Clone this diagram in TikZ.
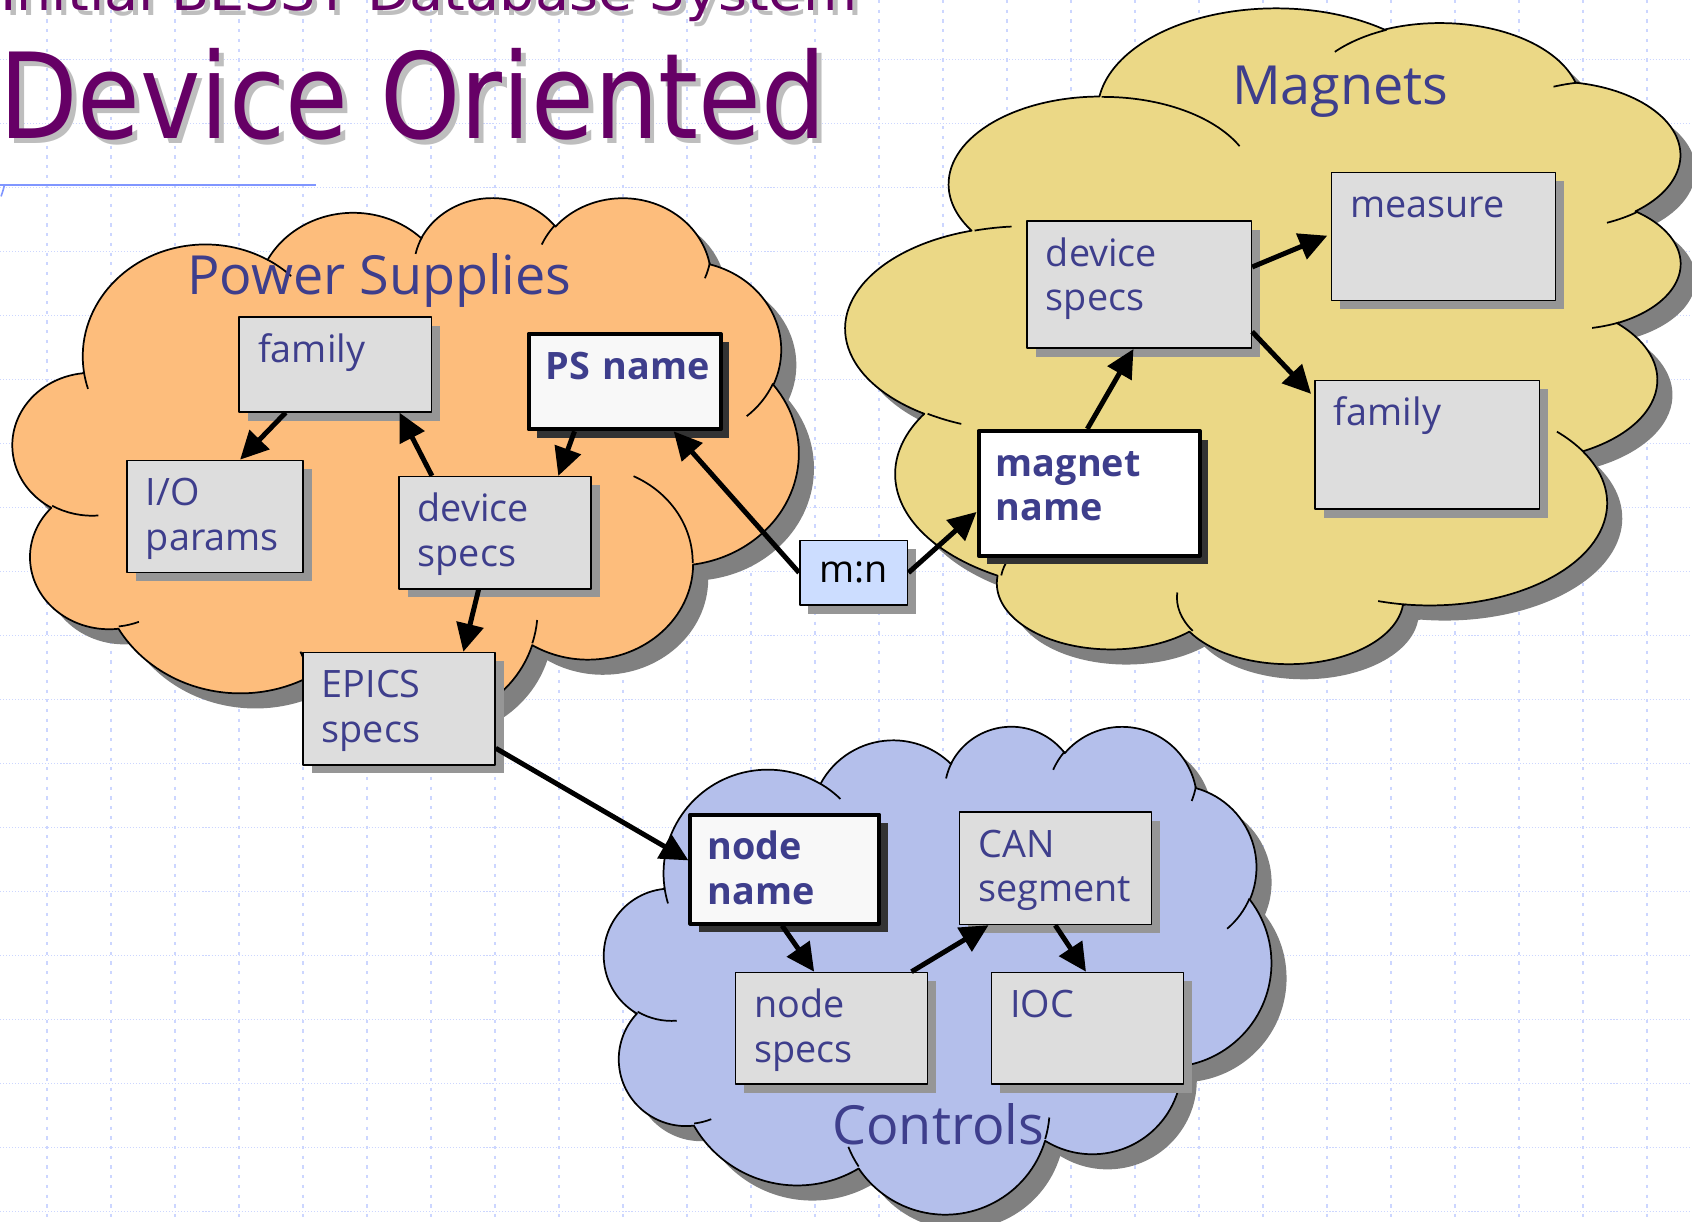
\documentclass[tikz,border=0pt]{standalone}
\usepackage{fontspec}
\setmainfont{Open Sans}
\newfontfamily\titlefont{DejaVu Sans}
\usepackage{tikz}
\usetikzlibrary{arrows.meta,shadows}
\usepackage{xcolor}

\definecolor{psorange}{RGB}{253,189,124}
\definecolor{magyellow}{RGB}{235,216,134}
\definecolor{ctlblue}{RGB}{180,191,235}
\definecolor{boxgray}{RGB}{221,221,221}
\definecolor{boxshade}{RGB}{150,150,150}
\definecolor{cloudshade}{RGB}{128,128,128}
\definecolor{namefill}{RGB}{248,248,248}
\definecolor{nameshade}{RGB}{51,51,51}
\definecolor{mnblue}{RGB}{204,221,255}
\definecolor{inkblue}{RGB}{62,62,140}
\definecolor{titlepurple}{RGB}{102,0,102}
\definecolor{titleshade}{RGB}{190,190,190}
\definecolor{gridblue}{RGB}{204,214,255}
\definecolor{ruleblue}{RGB}{128,150,255}

% cloud outline, 432 x 432 box: x radius/y radius/start/swing
\def\cloudarcs{67.53/91.90/-190.4875/123.7805,53.33/72.67/-144.1024/89.9452,43.65/59.45/-145.8079/99.7230,48.57/65.95/-130.9861/117.2417,53.33/72.73/-78.7089/109.0269,67.75/92.20/-46.2673/130.2690,57.85/78.67/0.6250/114.0333,67.52/92.15/22.4516/115.1726,77.20/105.43/66.2426/75.7110,43.60/59.18/-274.9421/146.7356,43.45/59.45/-246.8285/152.5189}
% the short strokes inside the cloud: x/y/x radius/y radius/start/swing
\def\cloudbits{46.93/261.77/43.45/59.45/86.7420/26.4295,69.28/348.99/43.60/59.18/73.6105/11.4475,164.78/390.90/67.52/92.15/137.6242/14.0811,288.27/347.51/67.52/92.15/6.4533/15.9984,341.29/229.54/57.85/78.67/-70.2924/70.9174,417.98/153.54/53.33/72.73/30.3180/27.7515,383.24/54.26/48.57/65.95/13.7443/14.8589,290.78/39.52/48.57/65.95/-149.1815/18.1954,221.41/47.20/43.65/59.45/-163.4943/17.6864,140.00/51.92/67.53/91.90/-66.7070/12.3194,41.27/157.89/67.53/91.90/157.6544/11.8582}

% #1 placement of the 432 box, #2 fill
\newcommand\cloud[2]{%
  \begin{scope}[shift={(14,14)},#1]
    \fill[cloudshade] (39,143.7) \foreach \wr/\hr/\st/\sw [evaluate={\st as \ts using atan2(\wr*sin(\st),\hr*cos(\st))},evaluate={\sw as \dd using mod(atan2(\wr*sin(\st+\sw),\hr*cos(\st+\sw))-atan2(\wr*sin(\st),\hr*cos(\st))+720,360)}] in \cloudarcs {arc[start angle=\ts,delta angle=\dd,x radius=\wr,y radius=\hr]} -- cycle;
  \end{scope}
  \begin{scope}[#1]
    \filldraw[fill=#2,line width=1.6pt] (39,143.7) \foreach \wr/\hr/\st/\sw [evaluate={\st as \ts using atan2(\wr*sin(\st),\hr*cos(\st))},evaluate={\sw as \dd using mod(atan2(\wr*sin(\st+\sw),\hr*cos(\st+\sw))-atan2(\wr*sin(\st),\hr*cos(\st))+720,360)}] in \cloudarcs {arc[start angle=\ts,delta angle=\dd,x radius=\wr,y radius=\hr]} -- cycle;
    \draw[line width=1.6pt] \foreach \ax/\ay/\wr/\hr/\st/\sw [evaluate={\st as \ts using atan2(\wr*sin(\st),\hr*cos(\st))},evaluate={\sw as \dd using mod(atan2(\wr*sin(\st+\sw),\hr*cos(\st+\sw))-atan2(\wr*sin(\st),\hr*cos(\st))+720,360)}] in \cloudbits {(\ax,\ay) arc[start angle=\ts,delta angle=\dd,x radius=\wr,y radius=\hr]};
  \end{scope}
}

\begin{document}
\begin{tikzpicture}[x=1pt,y=-1pt,line join=round,
  box/.style={draw,line width=1.4pt,anchor=north west,align=left,inner xsep=17.5pt,inner ysep=0pt,text height=42pt,text=inkblue,font=\fontsize{35}{41}\selectfont},
  boxsize/.style 2 args={text width=#1pt-2*\pgfkeysvalueof{/pgf/inner xsep},text depth=#2pt-42pt},
  graybox/.style={box,fill=boxgray,drop shadow={shadow xshift=8pt,shadow yshift=-8pt,fill=boxshade,opacity=1}},
  namebox/.style={box,fill=namefill,line width=3.7pt,inner xsep=16pt,font=\fontsize{35}{41}\selectfont\bfseries,drop shadow={shadow xshift=8pt,shadow yshift=-8pt,fill=nameshade,opacity=1}},
  mnbox/.style={draw,line width=1.4pt,fill=mnblue,anchor=north west,minimum width=100pt,minimum height=60pt,inner sep=0pt,font=\fontsize{35}{41}\selectfont,drop shadow={shadow xshift=8pt,shadow yshift=-8pt,fill=boxshade,opacity=1}},
  cloudlabel/.style={anchor=base,inner sep=0pt,text=inkblue,font=\fontsize{50}{60}\selectfont},
  titletext/.style={anchor=base west,inner sep=0pt,font=\titlefont\fontsize{#1}{#1}\selectfont},
  link/.style={line width=4.6pt,-{Triangle[length=26pt,width=25pt]}}]
\useasboundingbox (0,0) rectangle (1568,1132);
\clip (0,0) rectangle (1568,1132);
\fill[white] (0,0) rectangle (1568,1132);
% dotted paper
\foreach \k in {0,...,18}
  \draw[gridblue,line width=1.2pt,dash pattern=on 1pt off 1.8pt] (0,55.3+59.31*\k) -- (1568,55.3+59.31*\k);
\foreach \k in {0,...,25}
  \draw[gridblue,line width=1.6pt,dash pattern=on 3pt off 6pt] (43.3+59.31*\k,0) -- (43.3+59.31*\k,1132);

% titles
\node[titletext=50,text=titleshade,xscale=1.03] (subshade) at (4.6,14.5) {Initial BESSY Database System};
\node[titletext=50,text=titlepurple,xscale=1.03] (subtitle) at (0,9.9) {Initial BESSY Database System};
\node[titletext=110,text=titleshade,xscale=0.86] (headshade) at (3.6,132.8) {Device Oriented};
\node[titletext=110,text=titlepurple,xscale=0.86] (head) at (-1,128.2) {Device Oriented};
\draw[ruleblue,line width=2pt] (0,171.5) -- (293,171.5);
\draw[ruleblue,line width=1.5pt] (4,172) .. controls (3,176) .. (1,182);

% the three clouds
\cloud{shift={(12,182)},xscale=728/432,yscale=488/432}{psorange}
\cloud{cm={0,1.40509,1.79167,0,(1560,615)}}{magyellow}
\cloud{shift={(560,672)},xscale=618/432,yscale=452/432}{ctlblue}
\node[cloudlabel] (pslabel) at (351.6,273.2) {Power Supplies};
\node[cloudlabel] (maglabel) at (1242,97.2) {Magnets};
\node[cloudlabel] (ctllabel) at (869.4,1060.2) {Controls};

% power supplies
\node[graybox,boxsize={178}{88}] (psfam) at (221,293) {family};
\node[namebox,boxsize={178}{88.5}] (psname) at (488,307.5) {PS~name};
\node[graybox,boxsize={163}{104}] (psio) at (117,426) {I/O\\params};
\node[graybox,boxsize={178}{104}] (psdev) at (369,441) {device\\specs};
\node[graybox,boxsize={178}{104}] (psepics) at (280,604) {EPICS\\specs};
\node[mnbox] (mn) at (740.5,500) {m:n};
% magnets
\node[graybox,boxsize={208}{118}] (magdev) at (951,204) {device\\specs};
\node[graybox,boxsize={208}{119}] (magmeas) at (1233,159) {measure};
\node[graybox,boxsize={208}{119}] (magfam) at (1218,352) {family};
\node[namebox,boxsize={205}{115.5},fill=white] (magname) at (905,397.5) {magnet\\name};
% controls
\node[namebox,boxsize={175}{101}] (ctlname) at (638,753) {node\\name};
\node[graybox,boxsize={178}{104}] (ctlcan) at (888.5,752) {CAN\\segment};
\node[graybox,boxsize={178}{103.5}] (ctlspecs) at (681,900.5) {node\\specs};
\node[graybox,boxsize={178}{103.5}] (ctlioc) at (918,900.5) {IOC};

\draw[link] ([xshift=43.7pt]psfam.south west) -- ([xshift=105.5pt]psio.north west);
\draw[link] ([xshift=31.3pt]psdev.north west) -- ([xshift=149.2pt]psfam.south west);
\draw[link] ([xshift=44.4pt]psname.south west) -- ([xshift=148.4pt]psdev.north west);
\draw[link] ([xshift=74.5pt]psdev.south west) -- ([xshift=149.4pt]psepics.north west);
\draw[link] (mn.west) -- ([xshift=136.3pt]psname.south west);
\draw[link] ([yshift=16pt]psepics.south east) -- ([yshift=8pt]ctlname.west);
\draw[link] (mn.east) -- ([yshift=-17.3pt]magname.west);
\draw[link] ([xshift=102.6pt]magname.north west) -- ([xshift=99.4pt]magdev.south west);
\draw[link] ([yshift=-43.4pt]magdev.north east) -- ([xshift=-3pt,yshift=-59.4pt]magmeas.north west);
\draw[link] ([yshift=-103.4pt]magdev.north east) -- ([xshift=-3pt,yshift=-13pt]magfam.north west);
\draw[link] ([xshift=86.7pt]ctlname.south west) -- ([xshift=73.5pt]ctlspecs.north west);
\draw[link] ([xshift=163.7pt]ctlspecs.north west) -- ([xshift=27.6pt]ctlcan.south west);
\draw[link] ([xshift=89.4pt]ctlcan.south west) -- ([xshift=88.4pt]ctlioc.north west);
\end{tikzpicture}
\end{document}
